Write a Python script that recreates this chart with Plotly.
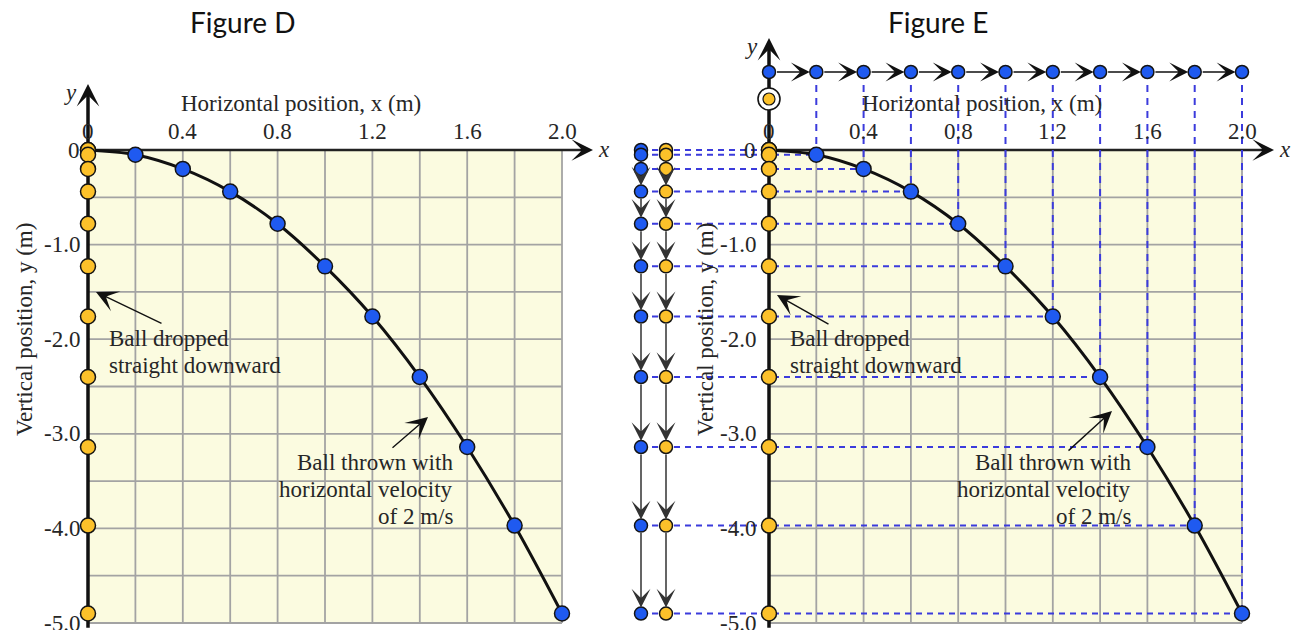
import plotly.graph_objects as go

# Positions sampled every 0.1 s
x_thrown = [0.0, 0.2, 0.4, 0.6, 0.8, 1.0, 1.2, 1.4, 1.6, 1.8, 2.0]          # horizontal position (m)
y_fall = [0.0, -0.05, -0.2, -0.44, -0.78, -1.23, -1.76, -2.4, -3.14, -3.97, -4.9]  # vertical position (m)

x_ticks = [0.0, 0.4, 0.8, 1.2, 1.6, 2.0]
x_tick_text = ["0", "0.4", "0.8", "1.2", "1.6", "2.0"]
y_ticks = [0.0, -1.0, -2.0, -3.0, -4.0, -5.0]
y_tick_text = ["0", "-1.0", "-2.0", "-3.0", "-4.0", "-5.0"]

dropped_lines = ["Ball dropped", "straight downward"]
thrown_lines = ["Ball thrown with", "horizontal velocity", "of 2 m/s"]

# ---- page geometry (pixels) ----
W, H = 1294, 630
Y_ZERO_PX, Y_SCALE = 150.0, 94.6
LINE_GAP_PX = 27
PANELS = {
    "D": dict(x0=88.0, scale=237.0, dom=(5, 621), xa="x", ya="y"),
    "E": dict(x0=769.0, scale=236.5, dom=(625, 1294), xa="x2", ya="y2"),
}


def to_x(p, px):
    return (px - p["x0"]) / p["scale"]


def to_y(py):
    return (Y_ZERO_PX - py) / Y_SCALE


SERIF = "Liberation Serif"
FS = 23
TXT = "#262626"
BLUE = "#1f5af0"
GOLD = "#fcc12a"
GRID = "#a3a3a3"
PAPER = "#fbfbe0"
DASH = "#3b3bdc"
OUTLINE = "#141414"

fig = go.Figure()
shapes = []
annotations = []


def lines(p, xs, ys, color, width, dash=None, shape="linear"):
    fig.add_trace(go.Scatter(
        x=xs, y=ys, mode="lines", xaxis=p["xa"], yaxis=p["ya"],
        line=dict(color=color, width=width, dash=dash, shape=shape),
        hoverinfo="skip", showlegend=False))


def dots(p, xs, ys, color, size, lw=1.5):
    fig.add_trace(go.Scatter(
        x=xs, y=ys, mode="markers", xaxis=p["xa"], yaxis=p["ya"],
        marker=dict(color=color, size=size, line=dict(color=OUTLINE, width=lw)),
        hoverinfo="skip", showlegend=False))


def text(p, x, y, s, size=FS, xanchor="center", angle=0, italic=False):
    annotations.append(dict(
        x=x, y=y, xref=p["xa"], yref=p["ya"], text=s, showarrow=False,
        xanchor=xanchor, yanchor="middle", textangle=angle,
        font=dict(family=SERIF, size=size, color=TXT,
                  style="italic" if italic else "normal")))


def arrow(p, tail, tip, width, size, color="#111111", head=3, standoff=0, startstandoff=0):
    annotations.append(dict(
        x=tip[0], y=tip[1], ax=tail[0], ay=tail[1],
        xref=p["xa"], yref=p["ya"], axref=p["xa"], ayref=p["ya"],
        text="", showarrow=True, arrowhead=head, arrowsize=size,
        arrowwidth=width, arrowcolor=color,
        standoff=standoff, startstandoff=startstandoff))


def base_panel(p, y_tip_px, x_tip_px, ytick_right_px, ytitle_px):
    xa, ya = p["xa"], p["ya"]
    # paper-coloured plotting field and the square grid
    shapes.append(dict(type="rect", xref=xa, yref=ya, x0=0, x1=2.0, y0=-5.0, y1=0,
                       fillcolor=PAPER, line=dict(width=0), layer="below"))
    for i in range(1, 11):
        gx = round(0.2 * i, 2)
        shapes.append(dict(type="line", xref=xa, yref=ya, x0=gx, x1=gx, y0=-5.0, y1=0,
                           line=dict(color=GRID, width=1.8), layer="below"))
    for i in range(1, 11):
        gy = -0.5 * i
        shapes.append(dict(type="line", xref=xa, yref=ya, x0=0, x1=2.0, y0=gy, y1=gy,
                           line=dict(color=GRID, width=1.8), layer="below"))

    # coordinate axes with arrowheads
    y_tip = to_y(y_tip_px)
    x_tip = to_x(p, x_tip_px)
    lines(p, [0, 0], [-5.05, y_tip - 0.1], "#111111", 3.5)
    lines(p, [0, x_tip - 0.04], [0, 0], "#222222", 2.6)
    annotations.append(dict(x=0, y=y_tip, xref=xa, yref=ya, ax=0, ay=14, text="",
                            showarrow=True, arrowhead=3, arrowsize=1.45, arrowwidth=2.6,
                            arrowcolor="#111111"))
    annotations.append(dict(x=x_tip, y=0, xref=xa, yref=ya, ax=-14, ay=0, text="",
                            showarrow=True, arrowhead=3, arrowsize=1.5, arrowwidth=2.4,
                            arrowcolor="#111111"))
    text(p, x_tip + 11 / p["scale"], 0.01, "x", italic=True)
    text(p, to_x(p, p["x0"] - 18), y_tip - 0.09, "y", italic=True)

    # tick labels
    for v, s in zip(x_ticks, x_tick_text):
        text(p, v, to_y(131), s)
    for v, s in zip(y_ticks, y_tick_text):
        text(p, to_x(p, ytick_right_px), v, s, xanchor="right")

    # axis titles
    text(p, 0.9, to_y(103), "Horizontal position, x (m)")
    text(p, to_x(p, ytitle_px), to_y(330), "Vertical position, y (m)", angle=-90)


def trajectory(p):
    lines(p, x_thrown, y_fall, "#111111", 3, shape="spline")
    dots(p, x_thrown, y_fall, BLUE, 15)
    dots(p, [0.0] * len(y_fall), y_fall, GOLD, 15)


def callouts(p, dropped_left_px, thrown_right_px, drop_tip, drop_tail, throw_tip, throw_tail):
    for i, s in enumerate(dropped_lines):
        text(p, to_x(p, dropped_left_px), to_y(338 + i * LINE_GAP_PX), s, xanchor="left")
    for i, s in enumerate(thrown_lines):
        text(p, to_x(p, thrown_right_px), to_y(462 + i * LINE_GAP_PX), s, xanchor="right")
    arrow(p, (to_x(p, drop_tail[0]), to_y(drop_tail[1])),
          (to_x(p, drop_tip[0]), to_y(drop_tip[1])), 1.4, 2.6)
    arrow(p, (to_x(p, throw_tail[0]), to_y(throw_tail[1])),
          (to_x(p, throw_tip[0]), to_y(throw_tip[1])), 1.4, 2.6)


# ---------------- Figure D ----------------
pD = PANELS["D"]
base_panel(pD, y_tip_px=84, x_tip_px=593, ytick_right_px=82, ytitle_px=24)
trajectory(pD)
callouts(pD, 107, 455, (96, 292), (163, 324), (428, 417), (391, 449))

# ---------------- Figure E ----------------
pE = PANELS["E"]
base_panel(pE, y_tip_px=38, x_tip_px=1274, ytick_right_px=758, ytitle_px=705)

col_blue = to_x(pE, 641)
col_gold = to_x(pE, 666)
row_top = to_y(72)
ring_y = to_y(99)

# projection lines: horizontal from the left column, vertical from the top row
hx, hy = [], []
for xv, yv in zip(x_thrown, y_fall):
    hx += [col_blue, xv, None]
    hy += [yv, yv, None]
lines(pE, hx, hy, DASH, 2, dash="6px,5px")
vx, vy = [], []
for xv, yv in zip(x_thrown[1:], y_fall[1:]):
    vx += [xv, xv, None]
    vy += [row_top, yv, None]
lines(pE, vx, vy, DASH, 2, dash="7px,6px")

trajectory(pE)

# separate vertical and horizontal motion diagrams
for k in range(2, len(y_fall) - 1):
    for cx in (col_blue, col_gold):
        arrow(pE, (cx, y_fall[k]), (cx, y_fall[k + 1]), 1.5, 2.1, color="#333333",
              standoff=6, startstandoff=6)
for k in range(len(x_thrown) - 1):
    arrow(pE, (x_thrown[k], row_top), (x_thrown[k + 1], row_top), 1.5, 2.1,
          standoff=6.5, startstandoff=6.5)

dots(pE, [col_blue] * len(y_fall), y_fall, BLUE, 13)
dots(pE, [col_gold] * len(y_fall), y_fall, GOLD, 13)
dots(pE, x_thrown, [row_top] * len(x_thrown), BLUE, 13)
# released ball, ringed
dots(pE, [0.0], [ring_y], "white", 22, lw=1.6)
dots(pE, [0.0], [ring_y], GOLD, 12, lw=1.2)

callouts(pE, 788, 1133, (777, 295), (830, 325), (1112, 411), (1067, 452))

# panel titles
for label, cx in (("Figure D", 243), ("Figure E", 938)):
    annotations.append(dict(x=cx / W, y=1 - 22 / H, xref="paper", yref="paper",
                            text=label, showarrow=False, xanchor="center", yanchor="middle",
                            font=dict(family="Lato", size=28, color="#111111")))

y_range = [to_y(H), to_y(0)]
fig.update_layout(
    width=W, height=H,
    margin=dict(l=0, r=0, t=0, b=0),
    paper_bgcolor="white", plot_bgcolor="white",
    showlegend=False,
    xaxis=dict(domain=[pD["dom"][0] / W, pD["dom"][1] / W],
               range=[to_x(pD, pD["dom"][0]), to_x(pD, pD["dom"][1])],
               visible=False, anchor="y"),
    yaxis=dict(domain=[0, 1], range=y_range, visible=False, anchor="x"),
    xaxis2=dict(domain=[pE["dom"][0] / W, pE["dom"][1] / W],
                range=[to_x(pE, pE["dom"][0]), to_x(pE, pE["dom"][1])],
                visible=False, anchor="y2"),
    yaxis2=dict(domain=[0, 1], range=y_range, visible=False, anchor="x2"),
    shapes=shapes,
    annotations=annotations,
)

fig.write_html("out.html")
